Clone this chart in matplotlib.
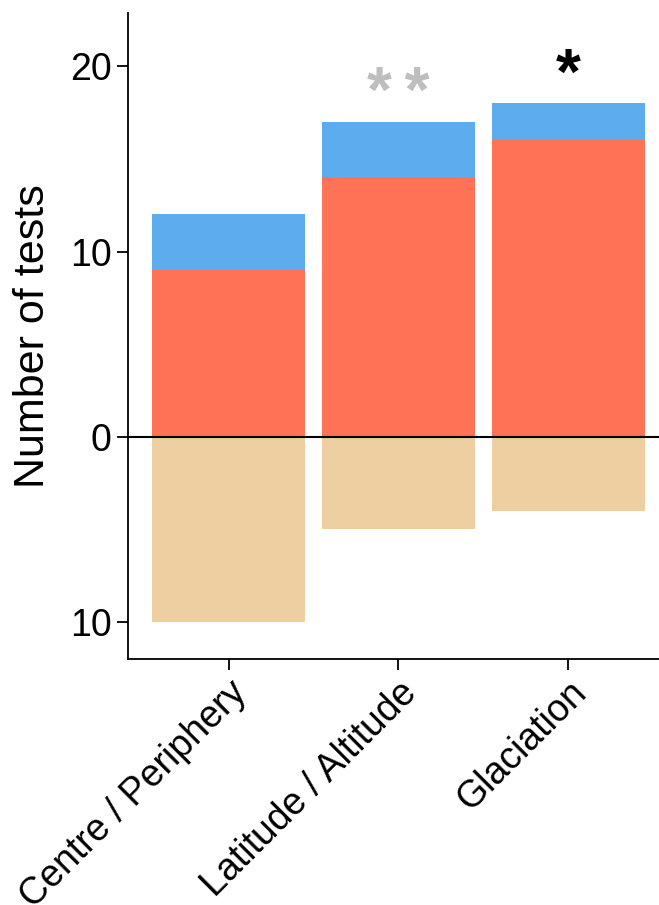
import matplotlib
matplotlib.use("Agg")
import matplotlib.pyplot as plt
import numpy as np

categories = ["Centre / Periphery", "Latitude / Altitude", "Glaciation"]
red_vals = [9, 14, 16]
blue_vals = [3, 3, 2]
tan_vals = [10, 5, 4]
stars = ["", "**", "*"]
star_colors = ["black", "#BEBEBE", "black"]

plt.rcParams['font.family'] = ['Liberation Sans', 'DejaVu Sans']

fig = plt.figure(figsize=(6.59, 9.05), dpi=100)
ax = fig.add_axes([0.194, 0.272, 0.81, 0.714])

x = np.arange(len(categories))
red = np.array(red_vals)
blue = np.array(blue_vals)
tan = np.array(tan_vals)

ax.bar(x, red, width=0.9, color="#FF7256")
ax.bar(x, blue, bottom=red, width=0.9, color="#5CACEE")
ax.bar(x, -tan, width=0.9, color="#EECFA1")
ax.axhline(0, color="black", lw=1.5)

# significance marks above the bars
for xi, top, s, c in zip(x, red + blue, stars, star_colors):
    if s:
        ax.text(xi, top + 1.45, "\u2009".join(s), ha="center", va="center",
                fontsize=46, fontweight="bold", color=c)

ax.set_xlim(-0.594, 2.55)
ax.set_ylim(-12, 22.9)
ax.set_yticks([-10, 0, 10, 20])
ax.set_yticklabels(["10", "0", "10", "20"])
ax.set_xticks(x)
ax.set_xticklabels(categories, rotation=45, ha="right", rotation_mode="anchor")
ax.set_ylabel("Number of tests", fontsize=31, labelpad=12)
ax.tick_params(labelsize=27, length=8, width=1.3)
for side in ["top", "right"]:
    ax.spines[side].set_visible(False)
for side in ["left", "bottom"]:
    ax.spines[side].set_linewidth(1.3)

fig.savefig("out.png", dpi=100)
